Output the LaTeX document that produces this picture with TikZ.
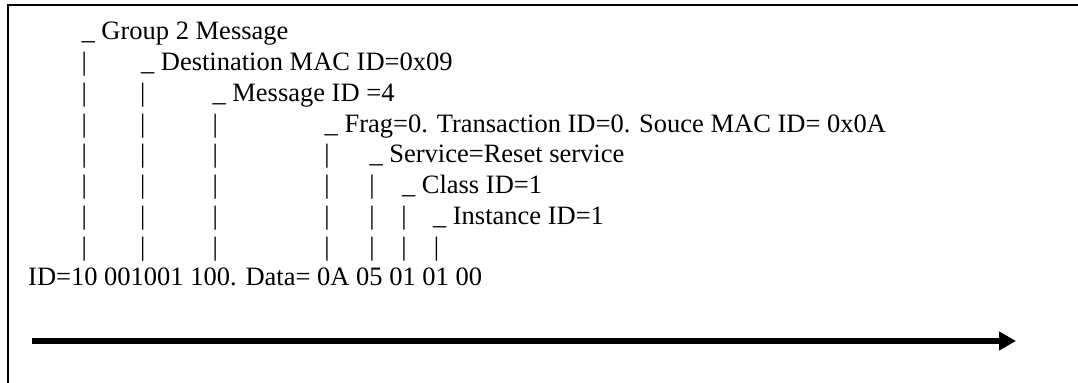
\documentclass[tikz,border=0pt]{standalone}
\usepackage{fontspec}
\setmainfont{Liberation Serif}
\usetikzlibrary{arrows.meta}
\begin{document}
\begin{tikzpicture}[x=0.5pt,y=-0.5pt,
  lbl/.style={anchor=base west,inner sep=0pt,outer sep=0pt,font=\fontsize{13.25}{16}\selectfont},
  barc/.style={anchor=base,inner sep=0pt,outer sep=0pt,font=\fontsize{13.25}{16}\selectfont},
  frame/.style={line width=1pt},
  bigarrow/.style={line width=3pt,-{Triangle[length=8.5pt,width=9pt]}}]
\useasboundingbox (0,0) rectangle (1078,383);
% frame (open at right and bottom)
\draw[frame] (1078,5) -- (8,5) -- (8,383);
% labels
\node[lbl] (l1) at (81.6,40) {\_ Group 2 Message};
\node[lbl] (l2) at (141,70.75) {\_ Destination MAC ID=0x09};
\node[lbl] (l3) at (212.5,101.5) {\_ Message ID =4};
\node[lbl] (l4) at (324.7,132.25) {\_ Frag=0. Transaction ID=0. Souce MAC ID= 0x0A};
\node[lbl] (l5) at (369.5,163) {\_ Service=Reset service};
\node[lbl] (l6) at (402,193.75) {\_ Class ID=1};
\node[lbl] (l7) at (433,224.5) {\_ Instance ID=1};
\node[lbl] (data) at (28.2,286) {ID=10 001001 100. Data= 0A 05 01 01 00};
% vertical bars
\foreach \x/\first [count=\k] in {84.4/2,142.9/3,215.2/4,327/5,372/6,404/7,436.5/8}{
  \foreach \r in {\first,...,8}{
    \node[barc] (b\k-\r) at (\x,{40+30.75*(\r-1)}) {|};
  }
}
% arrow
\coordinate (as) at (32,341);
\coordinate (ae) at (1016,341);
\draw[bigarrow] (as) -- (ae);
\end{tikzpicture}
\end{document}
